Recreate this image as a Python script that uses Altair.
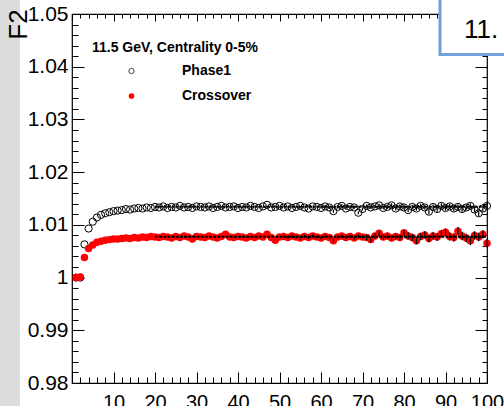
import altair as alt
import pandas as pd

# ---------------- data ----------------
bins = list(range(1, 101))

phase1 = [
    1.0000, 1.0000, 1.0063, 1.0093, 1.0106, 1.0114, 1.0119, 1.0122, 1.0124, 1.0126,
    1.0127, 1.0128, 1.0130, 1.0129, 1.0131, 1.0132, 1.0131, 1.0133, 1.0132, 1.0134,
    1.0133, 1.0135, 1.0132, 1.0134, 1.0133, 1.0136, 1.0133, 1.0134, 1.0132, 1.0135,
    1.0134, 1.0133, 1.0135, 1.0132, 1.0134, 1.0136, 1.0133, 1.0134, 1.0135, 1.0132,
    1.0134, 1.0133, 1.0136, 1.0134, 1.0132, 1.0135, 1.0138, 1.0133, 1.0134, 1.0136,
    1.0133, 1.0135, 1.0132, 1.0134, 1.0136, 1.0133, 1.0131, 1.0135, 1.0134, 1.0132,
    1.0135, 1.0133, 1.0126, 1.0134, 1.0136, 1.0131, 1.0134, 1.0133, 1.0123, 1.0130,
    1.0136, 1.0133, 1.0135, 1.0137, 1.0132, 1.0134, 1.0137, 1.0131, 1.0135, 1.0133,
    1.0128, 1.0134, 1.0131, 1.0136, 1.0133, 1.0125, 1.0134, 1.0130, 1.0136, 1.0132,
    1.0135, 1.0131, 1.0134, 1.0130, 1.0133, 1.0136, 1.0129, 1.0122, 1.0131, 1.0136,
]
crossover = [
    1.0000, 1.0001, 1.0038, 1.0055, 1.0062, 1.0067, 1.0069, 1.0071, 1.0072, 1.0073,
    1.0073, 1.0074, 1.0075, 1.0074, 1.0076, 1.0075, 1.0077, 1.0076, 1.0078, 1.0077,
    1.0076, 1.0078, 1.0077, 1.0075, 1.0078, 1.0076, 1.0079, 1.0077, 1.0073, 1.0078,
    1.0077, 1.0076, 1.0079, 1.0077, 1.0075, 1.0078, 1.0082, 1.0077, 1.0076, 1.0078,
    1.0077, 1.0075, 1.0078, 1.0076, 1.0079, 1.0077, 1.0082, 1.0076, 1.0071, 1.0077,
    1.0078, 1.0076, 1.0079, 1.0077, 1.0075, 1.0078, 1.0076, 1.0079, 1.0077, 1.0075,
    1.0078, 1.0076, 1.0070, 1.0077, 1.0079, 1.0076, 1.0078, 1.0075, 1.0079, 1.0077,
    1.0076, 1.0072, 1.0079, 1.0084, 1.0077, 1.0079, 1.0075, 1.0078, 1.0076, 1.0085,
    1.0079, 1.0076, 1.0070, 1.0078, 1.0081, 1.0074, 1.0079, 1.0077, 1.0083, 1.0086,
    1.0078, 1.0076, 1.0088, 1.0079, 1.0075, 1.0070, 1.0080, 1.0077, 1.0082, 1.0065,
]
phase1_err = [
    0.0001, 0.0001, 0.0001, 0.0001, 0.0001, 0.0001, 0.0001, 0.0001, 0.0001, 0.0001,
    0.0001, 0.0001, 0.0001, 0.0001, 0.0001, 0.0001, 0.0001, 0.0001, 0.0001, 0.0001,
    0.0002, 0.0002, 0.0002, 0.0002, 0.0002, 0.0002, 0.0002, 0.0002, 0.0002, 0.0002,
    0.0002, 0.0002, 0.0002, 0.0002, 0.0002, 0.0002, 0.0002, 0.0002, 0.0002, 0.0002,
    0.0002, 0.0002, 0.0002, 0.0002, 0.0002, 0.0002, 0.0002, 0.0002, 0.0002, 0.0002,
    0.0002, 0.0002, 0.0002, 0.0002, 0.0002, 0.0002, 0.0002, 0.0002, 0.0002, 0.0002,
    0.0003, 0.0003, 0.0003, 0.0003, 0.0003, 0.0003, 0.0003, 0.0003, 0.0003, 0.0003,
    0.0003, 0.0003, 0.0003, 0.0003, 0.0003, 0.0004, 0.0004, 0.0004, 0.0004, 0.0004,
    0.0004, 0.0004, 0.0004, 0.0004, 0.0004, 0.0005, 0.0005, 0.0005, 0.0005, 0.0005,
    0.0005, 0.0005, 0.0005, 0.0005, 0.0005, 0.0005, 0.0005, 0.0005, 0.0005, 0.0005,
]
crossover_err = [
    0.0001, 0.0001, 0.0001, 0.0001, 0.0001, 0.0001, 0.0001, 0.0001, 0.0001, 0.0001,
    0.0001, 0.0001, 0.0001, 0.0001, 0.0001, 0.0001, 0.0001, 0.0001, 0.0001, 0.0001,
    0.0002, 0.0002, 0.0002, 0.0002, 0.0002, 0.0002, 0.0002, 0.0002, 0.0002, 0.0002,
    0.0002, 0.0002, 0.0002, 0.0002, 0.0002, 0.0002, 0.0002, 0.0002, 0.0002, 0.0002,
    0.0002, 0.0002, 0.0002, 0.0002, 0.0002, 0.0002, 0.0002, 0.0002, 0.0002, 0.0002,
    0.0003, 0.0003, 0.0003, 0.0003, 0.0003, 0.0003, 0.0003, 0.0003, 0.0003, 0.0003,
    0.0003, 0.0003, 0.0003, 0.0003, 0.0003, 0.0003, 0.0003, 0.0003, 0.0003, 0.0003,
    0.0005, 0.0005, 0.0005, 0.0005, 0.0005, 0.0005, 0.0005, 0.0005, 0.0005, 0.0005,
    0.0007, 0.0007, 0.0007, 0.0007, 0.0007, 0.0007, 0.0007, 0.0007, 0.0007, 0.0007,
    0.0008, 0.0008, 0.0008, 0.0008, 0.0008, 0.0008, 0.0008, 0.0008, 0.0008, 0.0008,
]
fit_start = [20, 20]
fit_end = [100, 100]
fit_levels = [1.01343, 1.00774]

series_names = ["Phase1", "Crossover"]
legend_header = "11.5 GeV, Centrality 0-5%"
pad_label = "11."
y_title = "F2"

x_major = [0, 10, 20, 30, 40, 50, 60, 70, 80, 90, 100]
x_labels = [10, 20, 30, 40, 50, 60, 70, 80, 90, 100]
x_minor = [0, 2, 4, 6, 8, 10, 12, 14, 16, 18, 20, 22, 24, 26, 28, 30, 32, 34, 36, 38,
           40, 42, 44, 46, 48, 50, 52, 54, 56, 58, 60, 62, 64, 66, 68, 70, 72, 74, 76, 78,
           80, 82, 84, 86, 88, 90, 92, 94, 96, 98, 100]
y_major = [0.98, 0.99, 1.0, 1.01, 1.02, 1.03, 1.04, 1.05]
y_minor = [0.980, 0.982, 0.984, 0.986, 0.988, 0.990, 0.992, 0.994, 0.996, 0.998,
           1.000, 1.002, 1.004, 1.006, 1.008, 1.010, 1.012, 1.014, 1.016, 1.018,
           1.020, 1.022, 1.024, 1.026, 1.028, 1.030, 1.032, 1.034, 1.036, 1.038,
           1.040, 1.042, 1.044, 1.046, 1.048, 1.050]

# ---------------- tables ----------------
df = pd.DataFrame({
    "x": bins + bins,
    "y": phase1 + crossover,
    "err": phase1_err + crossover_err,
    "series": [series_names[0]] * len(bins) + [series_names[1]] * len(bins),
})
df["lo"] = df["y"] - df["err"]
df["hi"] = df["y"] + df["err"]

fit_df = pd.DataFrame({"x": fit_start, "x2": fit_end, "y": fit_levels})

W, H = 415, 369
FONT = "Liberation Sans"
xs = alt.Scale(domain=[0, 100], nice=False, zero=False)
ys = alt.Scale(domain=[0.98, 1.05], nice=False, zero=False)

base = alt.Chart(df)

# gray strip on the far left (screenshot background)
strip = alt.Chart(pd.DataFrame({"k": [0]})).mark_rect(color="#dcdcdc").encode(
    x=alt.value(-72), x2=alt.value(-52), y=alt.value(-20), y2=alt.value(400)
)

main_x_axis = alt.Axis(orient="bottom", values=x_labels, tickSize=0, labelPadding=9,
                       labelFontSize=20, labelFont=FONT, labelColor="black",
                       labelBaseline="top", labelAlign="center", labelOverlap=False,
                       labelBound=False, labelFlush=False,
                       domain=False, grid=False, title=None, zindex=1)
main_y_axis = alt.Axis(orient="left", values=y_major, tickSize=0, labelPadding=4,
                       labelFontSize=21, labelFont=FONT, labelColor="black",
                       labelOverlap=False, labelFlush=False,
                       labelExpr="datum.value == 1 ? '1' : format(datum.value, '.2f')",
                       domain=False, grid=False, title=y_title, titleFont=FONT,
                       titleFontSize=26, titleFontWeight="normal", titleColor="black",
                       titleAngle=270, titleAlign="center", titleBaseline="middle",
                       titleX=-54, titleY=10, zindex=1)

p1 = base.transform_filter(alt.datum.series == series_names[0]).mark_point(
    shape="circle", filled=False, stroke="black", strokeWidth=1, size=52, opacity=1
).encode(
    x=alt.X("x:Q", scale=xs, axis=main_x_axis),
    y=alt.Y("y:Q", scale=ys, axis=main_y_axis),
)

errs = base.transform_filter(alt.datum.err >= 0.0003).mark_rule(color="black", strokeWidth=1.2).encode(
    x=alt.X("x:Q", scale=xs, axis=None),
    y=alt.Y("lo:Q", scale=ys, axis=None),
    y2="hi:Q",
)

cr = base.transform_filter(alt.datum.series == series_names[1]).mark_circle(
    color="#ff0000", size=56, opacity=1
).encode(
    x=alt.X("x:Q", scale=xs, axis=None),
    y=alt.Y("y:Q", scale=ys, axis=None),
)

fits = alt.Chart(fit_df).mark_rule(color="black", strokeWidth=2, strokeDash=[3, 1.15]).encode(
    x=alt.X("x:Q", scale=xs, axis=None),
    x2="x2:Q",
    y=alt.Y("y:Q", scale=ys, axis=None),
)


def tick_layer(xaxis, yaxis):
    return base.mark_point(opacity=0).encode(
        x=alt.X("x:Q", scale=xs, axis=xaxis),
        y=alt.Y("y:Q", scale=ys, axis=yaxis),
    )


def tax(orient, values, size, offset):
    return alt.Axis(orient=orient, offset=offset, values=values, tickSize=size,
                    tickColor="black", tickWidth=1, labels=False, domain=False,
                    grid=False, title=None)


t1 = tick_layer(tax("top", x_major, 11, -H), tax("right", y_major, 12, -W))
t2 = tick_layer(tax("top", x_minor, 6, -H), tax("right", y_minor, 6, -W))
t3 = tick_layer(tax("bottom", x_major, 7, -H), tax("left", y_major, 12, -W))
t4 = tick_layer(tax("bottom", x_minor, 4, -H), tax("left", y_minor, 5, -W))

# pad label box at top right
box = alt.Chart(pd.DataFrame({"k": [0]})).mark_rect(
    fill="white", stroke="#72a0d8", strokeWidth=3
).encode(x=alt.value(368), x2=alt.value(450), y=alt.value(-20), y2=alt.value(40.5))
box_text = alt.Chart(pd.DataFrame({"t": [pad_label]})).mark_text(
    font=FONT, fontSize=26, color="black", align="left", baseline="alphabetic"
).encode(text="t:N", x=alt.value(392), y=alt.value(24))

# legend
leg_head = alt.Chart(pd.DataFrame({"t": [legend_header]})).mark_text(
    font=FONT, fontSize=14, fontWeight="bold", color="black", align="left", baseline="alphabetic"
).encode(text="t:N", x=alt.value(20), y=alt.value(38))
leg_text = alt.Chart(pd.DataFrame({"t": series_names, "yy": [61, 86]})).mark_text(
    font=FONT, fontSize=14, fontWeight="bold", color="black", align="left", baseline="alphabetic"
).encode(text="t:N", x=alt.value(110), y=alt.Y("yy:Q", scale=None, axis=None))
leg_m1 = alt.Chart(pd.DataFrame({"k": [0]})).mark_point(
    shape="circle", filled=False, stroke="#444444", strokeWidth=1, size=28, opacity=1
).encode(x=alt.value(59.5), y=alt.value(57))
leg_m2 = alt.Chart(pd.DataFrame({"k": [0]})).mark_circle(color="#ff0000", size=32, opacity=1).encode(
    x=alt.value(59.5), y=alt.value(82)
)

chart = alt.layer(
    strip, p1, cr, errs, fits, t1, t2, t3, t4, box, box_text, leg_head, leg_text, leg_m1, leg_m2
).resolve_scale(x="independent", y="independent").properties(
    width=W, height=H,
    padding={"left": 72, "top": 14, "right": 17, "bottom": 23},
    autosize="none",
    background="white",
).configure_view(stroke="black", strokeWidth=1.2)

chart.save("out.html", embed_options={"renderer": "svg", "actions": False})
